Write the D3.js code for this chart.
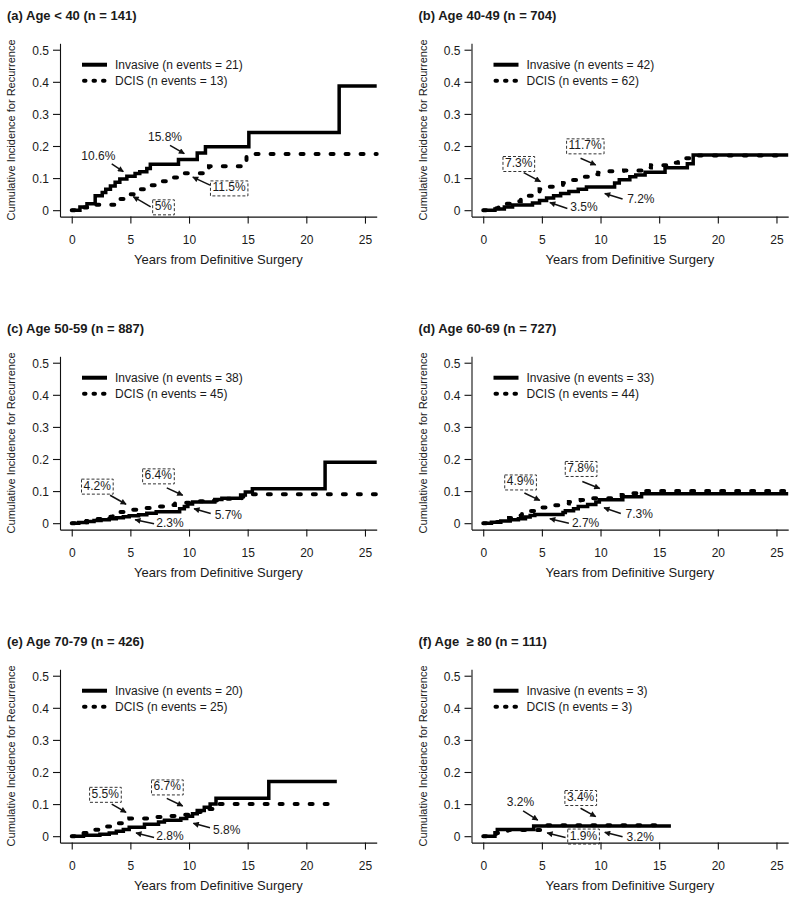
<!DOCTYPE html>
<html><head><meta charset="utf-8">
<script src="https://cdn.jsdelivr.net/npm/d3@7"></script>
<style>
body{margin:0;background:#fff}
text{font-family:"Liberation Sans",Arial,sans-serif;fill:#1a1a1a}
</style>
</head><body>
<svg id="chart" width="800" height="902"></svg>
<script>
// ---------------- DATA ----------------
const panelTitles = [
  "(a) Age < 40 (n = 141)",
  "(b) Age 40-49 (n = 704)",
  "(c) Age 50-59 (n = 887)",
  "(d) Age 60-69 (n = 727)",
  "(e) Age 70-79 (n = 426)",
  "(f) Age\u00a0 \u2265 80 (n = 111)"
];
const seriesNames = ["Invasive", "DCIS"];
const invasiveEvents = [21, 42, 38, 33, 20, 3];
const dcisEvents = [13, 62, 45, 44, 25, 3];

// step points: [years, cumulative incidence]
const invasiveA = [[0,0],[0.7,0.01],[1.3,0.02],[2.0,0.045],[2.6,0.055],[2.9,0.065],[3.3,0.075],[3.7,0.087],[4.1,0.097],[4.7,0.106],[5.4,0.114],[5.8,0.12],[6.4,0.13],[6.7,0.143],[9.1,0.158],[10.7,0.178],[11.4,0.198],[15.1,0.242],[22.8,0.387]];
const dcisA = [[0,0],[0.9,0.008],[2.1,0.017],[3.9,0.035],[4.6,0.05],[5.6,0.065],[6.3,0.078],[7.3,0.09],[8.3,0.102],[9.1,0.115],[11.7,0.137],[14.9,0.175]];
const invasiveB = [[0,0],[1.0,0.004],[1.8,0.01],[2.5,0.016],[4.2,0.022],[4.8,0.03],[5.4,0.038],[6.0,0.045],[6.6,0.052],[7.3,0.058],[8.1,0.065],[8.8,0.072],[11.2,0.085],[11.6,0.095],[12.5,0.104],[13.0,0.11],[13.8,0.118],[15.5,0.132],[17.4,0.145],[17.9,0.172]];
const dcisB = [[0,0],[0.8,0.006],[1.3,0.012],[2.0,0.02],[2.6,0.028],[3.2,0.036],[3.8,0.045],[4.3,0.055],[4.8,0.065],[5.0,0.073],[6.0,0.078],[6.8,0.085],[7.6,0.094],[8.2,0.104],[9.0,0.112],[9.8,0.117],[10.5,0.121],[12.0,0.124],[13.5,0.133],[14.3,0.14],[15.6,0.148],[16.6,0.162],[17.6,0.17]];
const invasiveC = [[0,0],[0.6,0.002],[1.2,0.005],[1.9,0.008],[2.5,0.011],[3.2,0.014],[3.8,0.017],[4.4,0.02],[4.9,0.023],[5.7,0.026],[6.4,0.031],[7.2,0.036],[9.2,0.045],[9.6,0.052],[9.9,0.06],[10.3,0.066],[12.2,0.074],[12.8,0.078],[14.4,0.088],[14.8,0.097],[15.4,0.107],[21.6,0.19]];
const dcisC = [[0,0],[0.7,0.003],[1.3,0.007],[2.0,0.013],[2.8,0.02],[3.5,0.027],[4.0,0.035],[4.7,0.042],[5.8,0.047],[6.7,0.052],[7.8,0.057],[8.8,0.062],[9.5,0.064],[10.2,0.068],[11.3,0.071],[12.5,0.076],[14.5,0.082],[15.3,0.09]];
const invasiveD = [[0,0],[0.7,0.003],[1.5,0.007],[2.3,0.011],[3.0,0.014],[3.6,0.019],[4.0,0.024],[4.4,0.027],[6.8,0.033],[7.0,0.039],[7.7,0.045],[8.1,0.052],[8.9,0.058],[9.6,0.066],[9.9,0.073],[11.9,0.082],[13.5,0.092]];
const dcisD = [[0,0],[0.8,0.004],[1.6,0.01],[2.2,0.016],[2.8,0.024],[3.3,0.031],[3.9,0.038],[4.4,0.045],[4.9,0.049],[5.5,0.056],[6.4,0.061],[7.3,0.066],[8.3,0.072],[9.2,0.078],[11.8,0.088],[12.6,0.093],[13.1,0.1]];
const invasiveE = [[0,0],[1.0,0.003],[2.4,0.006],[3.2,0.01],[3.8,0.015],[4.4,0.021],[4.9,0.028],[6.2,0.037],[7.4,0.044],[7.9,0.05],[9.3,0.055],[9.8,0.062],[10.3,0.07],[10.7,0.08],[11.3,0.09],[11.8,0.1],[12.3,0.118],[16.8,0.17]];
const dcisE = [[0,0],[0.9,0.01],[1.4,0.02],[2.6,0.03],[3.4,0.04],[4.3,0.048],[4.9,0.055],[6.8,0.06],[8.3,0.063],[9.3,0.067],[10.6,0.075],[11.2,0.085],[12.0,0.1]];
const invasiveF = [[0,0],[1.0,0.011],[1.2,0.021],[4.3,0.032]];
const dcisF = [[0,0],[1.1,0.01],[2.1,0.019],[4.9,0.034]];

const invasiveSeries = [invasiveA, invasiveB, invasiveC, invasiveD, invasiveE, invasiveF];
const dcisSeries = [dcisA, dcisB, dcisC, dcisD, dcisE, dcisF];
const invasiveEnd = [26, 26, 26, 26, 22.6, 16];
const dcisEnd = [26, 26, 26, 26, 21.9, 15.2];

const xTicks = [0, 5, 10, 15, 20, 25];
const yTicks = [0, 0.1, 0.2, 0.3, 0.4, 0.5];
const yTickLabels = ["0", "0.1", "0.2", "0.3", "0.4", "0.5"];
const xTitle = "Years from Definitive Surgery";
const yTitle = "Cumulative Incidence for Recurrence";

// annotations: label, boxed (DCIS), text anchor [yr, value], arrow from -> to [yr, value]
const annotA = [
  ["10.6%", false, [2.27,0.169], [3.41,0.144], [4.40,0.120]],
  ["15.8%", false, [7.95,0.228], [8.38,0.202], [9.60,0.176]],
  ["11.5%", true,  [13.41,0.072], [11.79,0.078], [10.32,0.103]],
  ["5%",    true,  [7.81,0.013], [6.73,0.010], [5.25,0.042]]
];
const annotB = [
  ["7.3%",  true,  [3.02,0.148], [3.45,0.117], [4.88,0.089]],
  ["11.7%", true,  [8.69,0.203], [8.30,0.162], [9.59,0.141]],
  ["3.5%",  false, [8.59,0.010], [7.17,0.005], [5.68,0.024]],
  ["7.2%",  false, [13.44,0.035], [11.88,0.035], [10.36,0.052]]
];
const annotC = [
  ["4.2%", true,  [2.17,0.118], [3.27,0.087], [4.63,0.059]],
  ["6.4%", true,  [7.38,0.150], [8.10,0.110], [9.46,0.087]],
  ["2.3%", false, [8.38,0.003], [7.02,-0.002], [5.40,0.011]],
  ["5.7%", false, [13.35,0.026], [11.85,0.030], [10.43,0.045]]
];
const annotD = [
  ["4.9%", true,  [3.17,0.131], [3.51,0.094], [4.82,0.071]],
  ["7.8%", true,  [8.33,0.173], [8.45,0.130], [9.93,0.108]],
  ["2.7%", false, [8.73,0.003], [7.30,0.000], [5.68,0.014]],
  ["7.3%", false, [13.30,0.031], [11.73,0.030], [10.30,0.048]]
];
const annotE = [
  ["5.5%", true,  [2.86,0.133], [3.41,0.100], [4.63,0.074]],
  ["6.7%", true,  [8.14,0.156], [8.10,0.118], [9.46,0.094]],
  ["2.8%", false, [8.38,0.003], [7.02,-0.004], [5.48,0.010]],
  ["5.8%", false, [13.21,0.021], [11.79,0.026], [10.37,0.040]]
];
const annotF = [
  ["3.2%", false, [3.17,0.108], [3.40,0.079], [4.65,0.050]],
  ["3.4%", true,  [8.30,0.123], [8.30,0.087], [9.59,0.061]],
  ["1.9%", true,  [8.54,0.003], [7.02,-0.004], [5.45,0.010]],
  ["3.2%", false, [13.38,0.000], [11.88,-0.002], [10.36,0.012]]
];
const annotations = [annotA, annotB, annotC, annotD, annotE, annotF];

// ---------------- LAYOUT ----------------
const colLeft = [60, 471.5];
const rowTop = [43.3, 356.3, 669.3];
const plotW = 316.7, plotH = 173.3;

const svg = d3.select("#chart");
const defs = svg.append("defs");
defs.append("marker").attr("id", "arrow")
  .attr("viewBox", "0 0 10 10").attr("refX", 9).attr("refY", 5)
  .attr("markerWidth", 7).attr("markerHeight", 6).attr("markerUnits", "userSpaceOnUse")
  .attr("orient", "auto")
  .append("path").attr("d", "M0,0 L10,5 L0,10 Z").attr("fill", "#111");

panelTitles.forEach((title, i) => {
  const left = colLeft[i % 2];
  const top = rowTop[Math.floor(i / 2)];
  const x = d3.scaleLinear().domain([-1, 26]).range([left, left + plotW]);
  const y = d3.scaleLinear().domain([-0.02, 0.52]).range([top + plotH, top]);
  const g = svg.append("g");

  // title
  g.append("text").attr("x", left - 53).attr("y", top - 23)
    .style("font-weight", "bold").style("font-size", "13px").text(title);

  // axes
  const xa = g.append("g").attr("transform", `translate(0,${top + plotH})`)
    .call(d3.axisBottom(x).tickValues(xTicks).tickSize(7).tickSizeOuter(0).tickPadding(8));
  const ya = g.append("g").attr("transform", `translate(${left},0)`)
    .call(d3.axisLeft(y).tickValues(yTicks).tickFormat((d, k) => yTickLabels[k]).tickSize(7).tickSizeOuter(0).tickPadding(4));
  [xa, ya].forEach(a => {
    a.selectAll("path,line").attr("stroke", "#111").attr("stroke-width", 1.1);
    a.selectAll("text").style("font-size", "12px").style("font-family", '"Liberation Sans",Arial,sans-serif').attr("fill", "#1a1a1a");
  });
  xa.selectAll("text").attr("dy", "1em");
  ya.selectAll("text").attr("dy", "0.36em");

  g.append("text").attr("x", left + plotW / 2).attr("y", top + plotH + 47)
    .attr("text-anchor", "middle").style("font-size", "13px").text(xTitle);
  g.append("text").attr("transform", `translate(${left - 45},${(y(0) + y(0.5)) / 2}) rotate(-90)`)
    .attr("text-anchor", "middle").style("font-size", "11px").text(yTitle);

  // curves
  const line = d3.line().x(d => x(d[0])).y(d => y(d[1])).curve(d3.curveStepAfter);
  const inv = invasiveSeries[i].concat([[invasiveEnd[i], invasiveSeries[i][invasiveSeries[i].length - 1][1]]]);
  const dc = dcisSeries[i].concat([[dcisEnd[i], dcisSeries[i][dcisSeries[i].length - 1][1]]]);
  g.append("path").attr("d", line(dc)).attr("fill", "none").attr("stroke", "#000")
    .attr("stroke-width", 4).attr("stroke-dasharray", "3,12").attr("stroke-linecap", "round");
  g.append("path").attr("d", line(inv)).attr("fill", "none").attr("stroke", "#000")
    .attr("stroke-width", 3.5);

  // legend
  const ly1 = y(0.5) + 15, ly2 = y(0.5) + 31;
  g.append("line").attr("x1", left + 22).attr("x2", left + 47).attr("y1", ly1).attr("y2", ly1)
    .attr("stroke", "#000").attr("stroke-width", 4);
  g.append("line").attr("x1", left + 24).attr("x2", left + 47).attr("y1", ly2).attr("y2", ly2)
    .attr("stroke", "#000").attr("stroke-width", 4).attr("stroke-dasharray", "1.5,8").attr("stroke-linecap", "round");
  g.append("text").attr("x", left + 55).attr("y", ly1).attr("dy", "0.36em").style("font-size", "12px")
    .text(`${seriesNames[0]} (n events = ${invasiveEvents[i]})`);
  g.append("text").attr("x", left + 55).attr("y", ly2).attr("dy", "0.36em").style("font-size", "12px")
    .text(`${seriesNames[1]} (n events = ${dcisEvents[i]})`);

  // annotations
  annotations[i].forEach(([label, boxed, t, a0, a1]) => {
    g.append("line").attr("x1", x(a0[0])).attr("y1", y(a0[1])).attr("x2", x(a1[0])).attr("y2", y(a1[1]))
      .attr("stroke", "#111").attr("stroke-width", 1.5).attr("marker-end", "url(#arrow)");
    const tx = g.append("text").attr("x", x(t[0])).attr("y", y(t[1])).attr("dy", "0.36em")
      .attr("text-anchor", "middle").style("font-size", "12px").text(label);
    if (boxed) {
      const b = tx.node().getBBox();
      g.insert("rect", "text").attr("x", b.x - 2).attr("y", b.y + 0.5).attr("width", b.width + 4).attr("height", b.height + 1)
        .attr("fill", "#fff").attr("stroke", "#333").attr("stroke-width", 1).attr("stroke-dasharray", "3,2");
    }
  });
});
</script>
</body></html>
